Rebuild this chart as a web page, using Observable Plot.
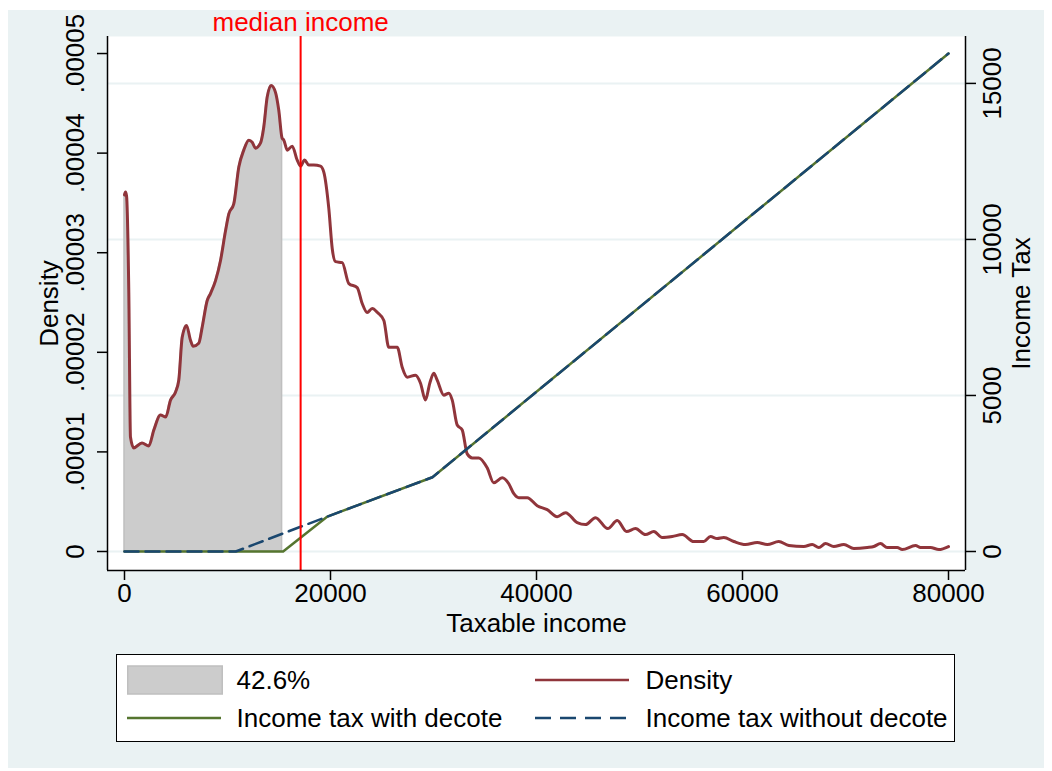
<!DOCTYPE html>
<html><head><meta charset="utf-8">
<script src="https://cdn.jsdelivr.net/npm/d3@7"></script>
<script src="https://cdn.jsdelivr.net/npm/@observablehq/plot@0.6"></script>
<style>
body{margin:0;background:#fff;font-family:"Liberation Sans",Arial,sans-serif;}
#bg{position:absolute;left:8px;top:10px;width:1036px;height:758px;background:#eaf2f3;}
#chart{position:absolute;left:0;top:0;width:1052px;}
#legend{position:absolute;left:116px;top:654px;width:839px;height:88px;background:#fff;border:1.5px solid #000;box-sizing:border-box;}
.lt{position:absolute;font-size:26px;line-height:30px;color:#000;white-space:nowrap;}
.sw{position:absolute;}
</style></head><body>
<div id="bg"></div><div id="chart"></div><div id="legend"></div>
<script>
// ---- data ----
const income = [
 0,100,200,420,580,900,1700,2360,2850,3500,
 4000,4470,4950,5270,5600,6020,6410,6670,7210,7540,
 8030,8350,8840,9320,9810,10130,10610,11100,11580,12070,
 12400,12720,13200,13520,13850,14240,14660,14980,15300,15470,
 15800,16280,16770,17090,17480,17890,18380,19030,19350,19840,
 20170,20490,21140,21780,22590,23080,23560,24050,24560,25180,
 25660,26480,26960,27450,28250,28740,29220,29640,30030,30360,
 31000,31490,31820,32300,32790,33270,33760,34400,35210,35850,
 36670,37310,37800,38280,39100,40070,41040,42010,42820,43950,
 44760,45730,46920,47840,48740,49610,50580,51390,52200,53180,
 54150,55270,56240,56890,57540,58180,59160,60290,61430,62400,
 63520,64500,65950,66770,67410,68060,68860,69840,70810,72110,
 72750,73400,74050,75020,75510,76800,77280,78250,79060,80000];
const density = [
 3.58e-5,3.61e-5,3.57e-5,2.59e-5,1.15e-5,1.04e-5,1.09e-5,1.06e-5,1.22e-5,1.37e-5,
 1.35e-5,1.52e-5,1.60e-5,1.72e-5,2.15e-5,2.27e-5,2.12e-5,2.06e-5,2.09e-5,2.25e-5,
 2.52e-5,2.59e-5,2.72e-5,2.92e-5,3.22e-5,3.39e-5,3.49e-5,3.86e-5,4.03e-5,4.13e-5,
 4.11e-5,4.05e-5,4.10e-5,4.26e-5,4.56e-5,4.68e-5,4.61e-5,4.43e-5,4.15e-5,4.13e-5,
 4.03e-5,4.07e-5,3.93e-5,3.87e-5,3.93e-5,3.88e-5,3.88e-5,3.87e-5,3.81e-5,3.44e-5,
 3.04e-5,2.91e-5,2.90e-5,2.69e-5,2.65e-5,2.49e-5,2.40e-5,2.44e-5,2.40e-5,2.32e-5,
 2.05e-5,2.05e-5,1.85e-5,1.75e-5,1.77e-5,1.69e-5,1.52e-5,1.69e-5,1.79e-5,1.72e-5,
 1.57e-5,1.59e-5,1.52e-5,1.27e-5,1.22e-5,0.98e-5,0.94e-5,0.94e-5,0.84e-5,0.69e-5,
 0.74e-5,0.68e-5,0.58e-5,0.54e-5,0.54e-5,0.46e-5,0.42e-5,0.35e-5,0.39e-5,0.29e-5,
 0.27e-5,0.34e-5,0.23e-5,0.31e-5,0.20e-5,0.23e-5,0.17e-5,0.20e-5,0.14e-5,0.15e-5,
 0.17e-5,0.10e-5,0.10e-5,0.15e-5,0.13e-5,0.14e-5,0.10e-5,0.07e-5,0.09e-5,0.07e-5,
 0.10e-5,0.06e-5,0.05e-5,0.07e-5,0.04e-5,0.08e-5,0.05e-5,0.07e-5,0.03e-5,0.04e-5,
 0.05e-5,0.08e-5,0.04e-5,0.04e-5,0.02e-5,0.06e-5,0.04e-5,0.04e-5,0.02e-5,0.05e-5];
const shadeLimit = 15300;
const shareLabel = "42.6%";
const medianIncome = 17100;
const taxWithX = [0, 15400, 19700, 29900, 80000];
const taxWith = [0, 0, 1120, 2380, 15960];
const taxWithoutX = [0, 10800, 19700, 29900, 80000];
const taxWithout = [0, 0, 1120, 2380, 15960];
const xTicks = [0, 20000, 40000, 60000, 80000];
const densTicks = [0, 0.00001, 0.00002, 0.00003, 0.00004, 0.00005];
const densTickLabels = ["0", ".00001", ".00002", ".00003", ".00004", ".00005"];
const taxTicks = [0, 5000, 10000, 15000];
const taxTickLabels = ["0", "5000", "10000", "15000"];
const seriesNames = ["Density", "Income tax with decote", "Income tax without decote"];
const colors = {shade: "#cccccc", shadeEdge: "#bfbfbf", density: "#90353b", withD: "#55752f", withoutD: "#1a476f", median: "#ff0000"};

// secondary (right) axis: Income Tax value -> density-scale value
const taxToDensity = 0.000047 / 15000;
const X_DOMAIN = [-1650, 81650];
const Y_DOMAIN = [-0.000001908, 0.00005171];

const densData = income.map((x, i) => ({x, d: density[i]}));
const shaded = densData.filter(p => p.x <= shadeLimit);
const withData = taxWithX.map((x, i) => ({x, t: taxWith[i] * taxToDensity}));
const withoutData = taxWithoutX.map((x, i) => ({x, t: taxWithout[i] * taxToDensity}));
const taxTickPos = taxTicks.map(t => t * taxToDensity);

const chart = Plot.plot({
  width: 1052, height: 650,
  marginLeft: 107, marginRight: 87, marginTop: 36, marginBottom: 80,
  style: {background: "transparent", fontFamily: "Liberation Sans, Arial, sans-serif", fontSize: "26px", color: "#000", overflow: "visible"},
  x: {domain: X_DOMAIN, axis: null},
  y: {domain: Y_DOMAIN, axis: null},
  marks: [
    Plot.frame({fill: "#fff", stroke: "none"}),
    Plot.ruleY(taxTickPos, {stroke: "#eaf2f3", strokeWidth: 2}),
    Plot.areaY(shaded, {x: "x", y: "d", curve: "monotone-x", fill: colors.shade, stroke: colors.shadeEdge, strokeWidth: 1.5}),
    Plot.line(densData, {x: "x", y: "d", curve: "monotone-x", stroke: colors.density, strokeWidth: 3}),
    Plot.line(withData, {x: "x", y: "t", stroke: colors.withD, strokeWidth: 2.5}),
    Plot.line(withoutData, {x: "x", y: "t", stroke: colors.withoutD, strokeWidth: 2.5, strokeDasharray: "14,7"}),
    Plot.ruleX([medianIncome], {stroke: colors.median, strokeWidth: 2}),
    Plot.ruleX([X_DOMAIN[0], X_DOMAIN[1]], {stroke: "#000", strokeWidth: 1.5}),
    Plot.ruleY([Y_DOMAIN[0]], {stroke: "#000", strokeWidth: 1.5}),
    Plot.axisX({ticks: xTicks, tickSize: 10, tickPadding: 3, label: null, tickFormat: d => String(d), stroke: "#000", fill: "#000", strokeWidth: 1.5}),
    Plot.axisY({ticks: densTicks, anchor: "left", tickSize: 10, fill: "none", stroke: "#000", strokeWidth: 1.5}),
    Plot.axisY({ticks: taxTickPos, anchor: "right", tickSize: 10, fill: "none", stroke: "#000", strokeWidth: 1.5}),
    Plot.text(densTicks, {y: d => d, text: (d, i) => densTickLabels[i], frameAnchor: "left", dx: -24, rotate: -90, textAnchor: "middle", lineAnchor: "bottom", fill: "#000"}),
    Plot.text(taxTickPos, {y: d => d, text: (d, i) => taxTickLabels[i], frameAnchor: "right", dx: 35, rotate: -90, textAnchor: "middle", lineAnchor: "bottom", fill: "#000"}),
    Plot.text(["Taxable income"], {text: d => d, frameAnchor: "bottom", dy: 61, lineAnchor: "bottom", fill: "#000"}),
    Plot.text(["Density"], {text: d => d, frameAnchor: "left", dx: -50, rotate: -90, textAnchor: "middle", lineAnchor: "bottom", fill: "#000"}),
    Plot.text(["Income Tax"], {text: d => d, frameAnchor: "right", dx: 64, rotate: -90, textAnchor: "middle", lineAnchor: "bottom", fill: "#000"}),
    Plot.text([medianIncome], {x: d => d, text: () => "median income", frameAnchor: "top", dy: -6, lineAnchor: "bottom", fill: colors.median})
  ]
});
document.getElementById("chart").appendChild(chart);

// ---- legend ----
const legend = document.getElementById("legend");
const legendItems = [
  {label: shareLabel, kind: "box", col: 0, row: 0},
  {label: seriesNames[0], kind: "line", color: colors.density, col: 1, row: 0},
  {label: seriesNames[1], kind: "line", color: colors.withD, col: 0, row: 1},
  {label: seriesNames[2], kind: "dash", color: colors.withoutD, col: 1, row: 1}
];
const swLeft = [9.5, 417.5], txtLeft = [119.5, 528.5], rowMid = [24.5, 62.5];
const NS = "http://www.w3.org/2000/svg";
for (const it of legendItems) {
  const s = document.createElementNS(NS, "svg");
  s.setAttribute("class", "sw");
  s.setAttribute("width", 96); s.setAttribute("height", 30);
  s.style.left = swLeft[it.col] + "px"; s.style.top = (rowMid[it.row] - 15) + "px";
  if (it.kind === "box") {
    const r = document.createElementNS(NS, "rect");
    r.setAttribute("x", 0.75); r.setAttribute("y", 1); r.setAttribute("width", 94.5); r.setAttribute("height", 28);
    r.setAttribute("fill", colors.shade); r.setAttribute("stroke", colors.shadeEdge); r.setAttribute("stroke-width", 1.5);
    s.appendChild(r);
  } else {
    const l = document.createElementNS(NS, "line");
    l.setAttribute("x1", 0); l.setAttribute("x2", 94); l.setAttribute("y1", 15); l.setAttribute("y2", 15);
    l.setAttribute("stroke", it.color); l.setAttribute("stroke-width", 2.5);
    if (it.kind === "dash") l.setAttribute("stroke-dasharray", "16,9");
    s.appendChild(l);
  }
  legend.appendChild(s);
  const t = document.createElement("div");
  t.className = "lt";
  t.textContent = it.label;
  t.style.left = txtLeft[it.col] + "px";
  t.style.top = (rowMid[it.row] - 15) + "px";
  legend.appendChild(t);
}
</script>
</body></html>
